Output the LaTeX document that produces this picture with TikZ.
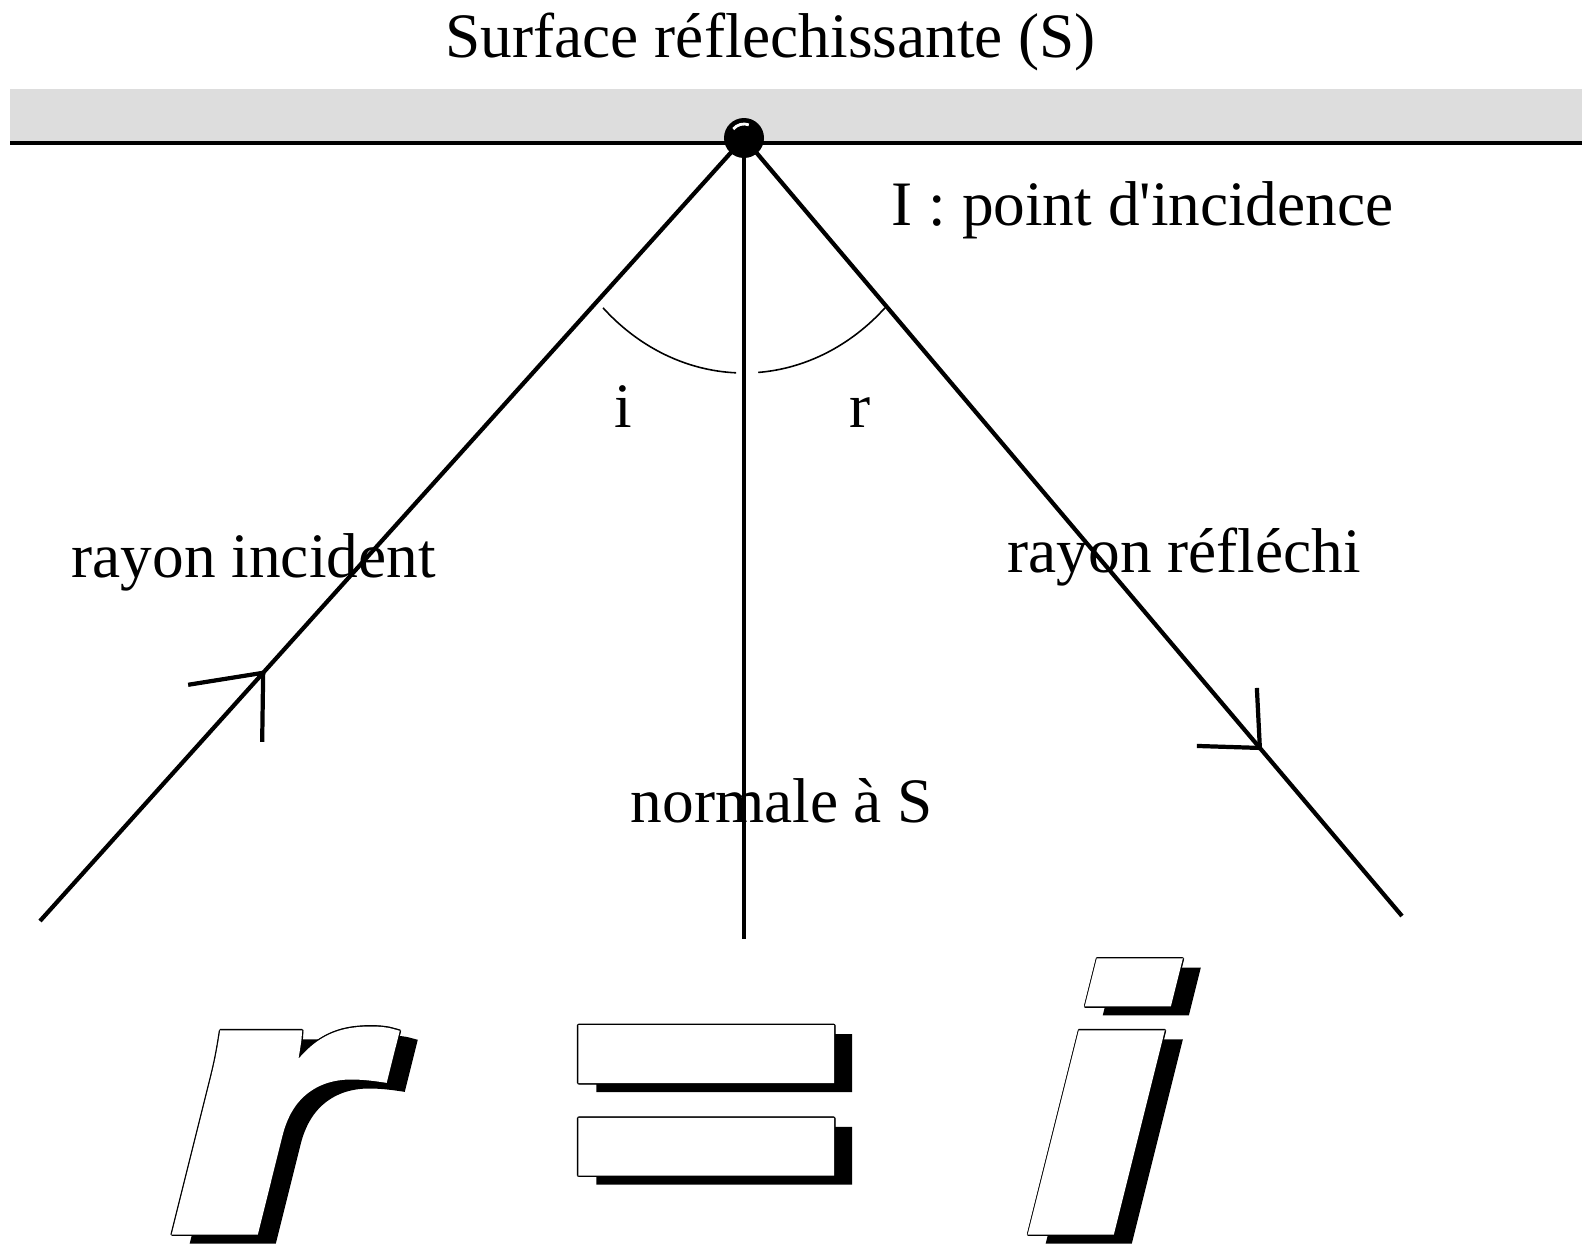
\documentclass[tikz,border=0pt]{standalone}
\usepackage{fontspec}
\setmainfont{Liberation Serif}
\newfontfamily\lblfont{Liberation Serif}
\newfontfamily\glyphfont[FakeSlant=0.25,FakeStretch=1.49,FakeBold=3]{Liberation Sans Bold}
\newfontfamily\eqfont[FakeStretch=1.2,FakeBold=6]{Liberation Sans Bold}
\usepackage{xcolor}
\definecolor{cBand}{HTML}{DDDDDD}
\definecolor{cInk}{HTML}{000000}
\usepackage{tikz}
\usetikzlibrary{calc}
% une copie decalee du glyphe (ombre ou contour)
\newcommand{\olcopy}[3]{\rlap{\kern#1\raisebox{#2}{#3}}}
\newcommand{\shadowed}[1]{%
  \olcopy{0.18cm}{-0.09cm}{#1}%
  \olcopy{0.4pt}{0pt}{#1}\olcopy{-0.4pt}{0pt}{#1}%
  \olcopy{0pt}{0.4pt}{#1}\olcopy{0pt}{-0.4pt}{#1}%
  \olcopy{0.28pt}{0.28pt}{#1}\olcopy{-0.28pt}{0.28pt}{#1}%
  \olcopy{0.28pt}{-0.28pt}{#1}\olcopy{-0.28pt}{-0.28pt}{#1}%
  \textcolor{white}{#1}}
\tikzset{
  lbl/.style={inner sep=0pt,anchor=base west,font=\lblfont\fontsize{18}{20}\selectfont},
  ray/.style={line width=1.2pt,draw=cInk},
  angle-arc/.style={line width=0.45pt,draw=cInk},
  glyph/.style={inner sep=0pt,anchor=base west,font=\glyphfont\fontsize{104}{104}\selectfont},
  glyph-eq/.style={inner sep=0pt,anchor=base west,font=\eqfont\fontsize{111}{111}\selectfont},
}

\begin{document}
\begin{tikzpicture}[x=0.01cm,y=0.01cm]
  \useasboundingbox (0,0) rectangle (1587,1244);
  % surface
  \coordinate (sL) at (10,1101);
  \coordinate (sR) at (1582,1101);
  \fill[cBand] (sL) rectangle (1582,1155);
  \draw[ray] (sL) -- (sR);
  % rayons
  \coordinate (I) at (744,1106);
  \coordinate (A) at (40,323);
  \coordinate (B) at (1402,328);
  \coordinate (N) at (744,305);
  \draw[ray] (I) -- (A);
  \draw[ray] (I) -- (B);
  \draw[ray] (I) -- (N);
  % fleches
  \coordinate (ai) at ($(I)!0.683!(A)$);
  \coordinate (ar) at ($(I)!0.784!(B)$);
  \draw[ray] (ai) -- ++(-75,-12);
  \draw[ray] (ai) -- ++(-1,-69);
  \draw[ray] (ar) -- ++(-63,2);
  \draw[ray] (ar) -- ++(-3,60);
  % angles
  \draw[angle-arc] ($(I)+(226.3:204 and 235)$) arc[start angle=226.3,end angle=267.8,x radius=204,y radius=235];
  \draw[angle-arc] ($(I)+(274:204 and 235)$) arc[start angle=274,end angle=313.7,x radius=204,y radius=235];
  % point I
  \fill[cInk] (I) circle[radius=20];
  \draw[white,line width=0.8pt] ($(I)+(140:14)$) arc[start angle=140,end angle=70,radius=14];
  % textes
  \node[lbl] (title) at (445,1186) {Surface réflechissante (S)};
  \node[lbl] (Ilbl) at (891,1019) {I : point d'incidence};
  \node[lbl] (inc) at (71,667) {rayon incident};
  \node[lbl] (refl) at (1007,672) {rayon réfléchi};
  \node[lbl] (norm) at (630,422) {normale à S};
  \node[lbl,anchor=base] (lbl-i) at (623,817) {i};
  \node[lbl,anchor=base] (lbl-r) at (860,817) {r};
  % r = i
  \node[glyph] (big-r) at (140,15) {\shadowed{r}};
  \node[glyph-eq] (big-eq) at (570,30) {\shadowed{\scalebox{0.99}[0.88]{=}}};
  \node[glyph] (big-i) at (996,15) {\shadowed{i}};
\end{tikzpicture}
\end{document}
